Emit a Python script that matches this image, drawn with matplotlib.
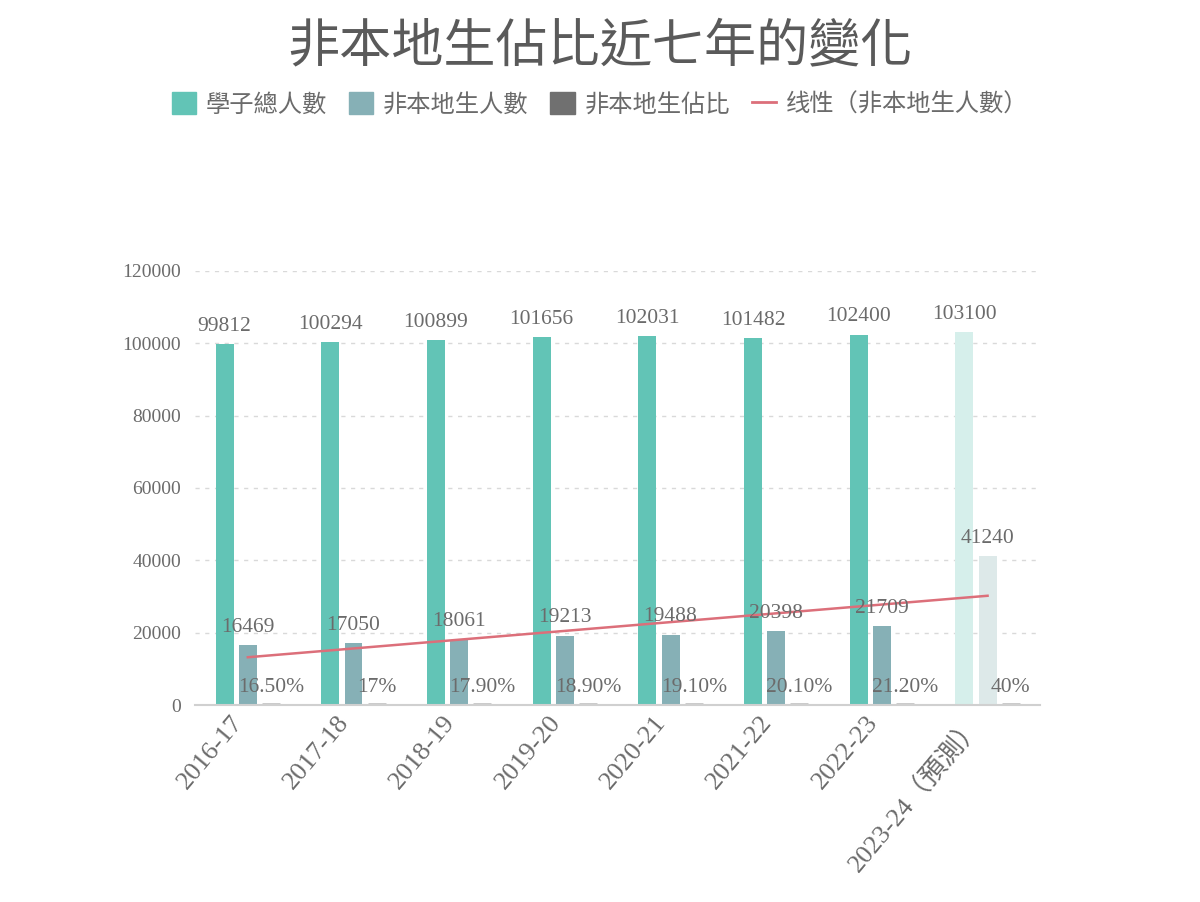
import numpy as np
import matplotlib
matplotlib.use("Agg")
import matplotlib.pyplot as plt
from matplotlib.patches import Patch
from matplotlib.lines import Line2D

# datos
anios = ['2016-17', '2017-18', '2018-19', '2019-20', '2020-21', '2021-22', '2022-23', '2023-24（預測）']
total = [99812, 100294, 100899, 101656, 102031, 101482, 102400, 103100]
no_local = [16469, 17050, 18061, 19213, 19488, 20398, 21709, 41240]
porcentaje = [16.5, 17, 17.9, 18.9, 19.1, 20.1, 21.2, 40]
porcentaje_txt = ['16.50%', '17%', '17.90%', '18.90%', '19.10%', '20.10%', '21.20%', '40%']

verde = '#62c4b6'
gris_azul = '#86b0b6'
verde_claro = '#d6efeb'
gris_claro = '#dde9e9'
stub = '#c8c8c8'
rojo = '#dc6f7a'
texto = '#6b6b6b'

fuente_num = ['Liberation Serif', 'Noto Sans CJK TC', 'DejaVu Sans']
fuente_cjk = ['Noto Sans CJK TC', 'DejaVu Sans']

fig = plt.figure(figsize=(12, 9.02), dpi=100)
ax = fig.add_axes([0.1625, 0.2184, 0.7045, 0.4812])

x = np.arange(len(anios))
ancho = 0.17
paso = 0.22

c_total = [verde] * 7 + [verde_claro]
c_nl = [gris_azul] * 7 + [gris_claro]

ax.bar(x - paso, total, ancho, color=c_total)
ax.bar(x, no_local, ancho, color=c_nl)
ax.bar(x + paso, porcentaje, ancho, color=stub, edgecolor=stub, linewidth=3.5)

for i in range(len(anios)):
    ax.annotate(f"{total[i]}", (x[i] - paso, total[i]), xytext=(0, 6), textcoords='offset points',
                ha='center', va='bottom', fontsize=15.5, color=texto, family=fuente_num)
    ax.annotate(f"{no_local[i]}", (x[i], no_local[i]), xytext=(0, 6), textcoords='offset points',
                ha='center', va='bottom', fontsize=15.5, color=texto, family=fuente_num)
    ax.annotate(porcentaje_txt[i], (x[i] + paso, 0), xytext=(0, 6), textcoords='offset points',
                ha='center', va='bottom', fontsize=15.5, color=texto, family=fuente_num)

# linea de tendencia (ajuste lineal)
m, b = np.polyfit(x, no_local, 1)
ax.plot(x, m * x + b, color=rojo, linewidth=1.8)

ax.set_xlim(-0.5, len(anios) - 0.5)
ax.set_ylim(0, 120000)
ax.set_yticks(np.arange(0, 120001, 20000))
ax.set_yticklabels([str(v) for v in range(0, 120001, 20000)], family=fuente_num, fontsize=14, color=texto)
ax.set_xticks(x)
ax.set_xticklabels(anios, rotation=50, ha='right', family=fuente_num, fontsize=19, color=texto)
ax.tick_params(length=0, pad=10)
ax.tick_params(axis='x', pad=5)

ax.yaxis.grid(True, linestyle=(0, (3, 4)), color='#d9d9d9', linewidth=1)
ax.set_axisbelow(True)
for s in ['top', 'right', 'left']:
    ax.spines[s].set_visible(False)
ax.spines['bottom'].set_color('#d0d0d0')
ax.spines['bottom'].set_linewidth(1.5)

fig.text(0.5, 0.948, '非本地生佔比近七年的變化', ha='center', va='center',
         fontsize=37.5, color='#5a5a5a', family=fuente_cjk)

handles = [Patch(color=verde), Patch(color=gris_azul), Patch(color='#707070'),
           Line2D([0], [0], color=rojo, linewidth=2)]
labels = ['學子總人數', '非本地生人數', '非本地生佔比', '线性（非本地生人數）']
leg = fig.legend(handles, labels, loc='center', bbox_to_anchor=(0.5, 0.884), ncol=4, frameon=False,
                 handlelength=1.0, handleheight=1.0, handletextpad=0.4, columnspacing=0.9,
                 prop={'family': fuente_cjk, 'size': 17.5})
for t in leg.get_texts():
    t.set_color(texto)

fig.savefig('out.png', dpi=100, facecolor='white')
